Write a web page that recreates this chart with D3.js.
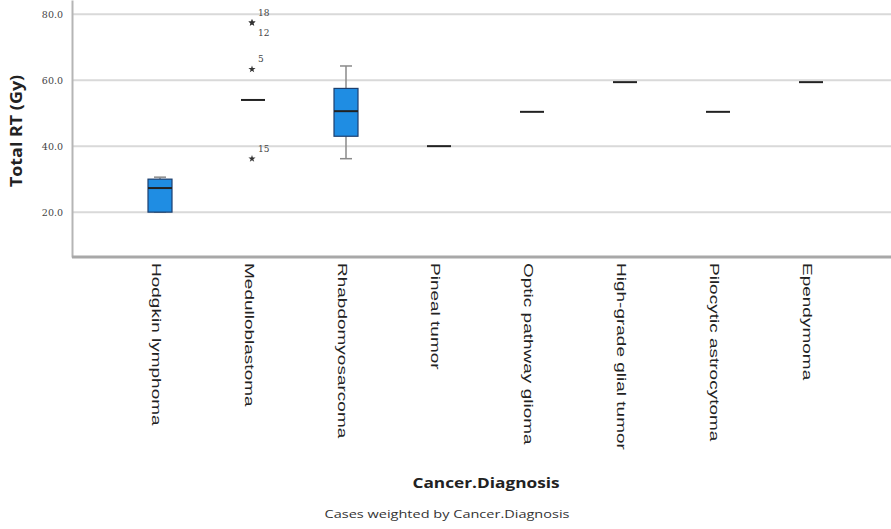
<!DOCTYPE html>
<html>
<head>
<meta charset="utf-8">
<script src="https://cdn.jsdelivr.net/npm/d3@7"></script>
<style>
  body { margin: 0; background: #fff; }
  svg { display: block; font-family: "Open Sans", sans-serif; }
</style>
</head>
<body>
<div id="chart"></div>
<script>
// chart values
const categories = ["Hodgkin lymphoma", "Medulloblastoma", "Rhabdomyosarcoma", "Pineal tumor",
  "Optic pathway glioma", "High-grade glial tumor", "Pilocytic astrocytoma", "Ependymoma"];
const whiskerLow  = [20.0, 54.0, 36.2, 40.0, 50.4, 59.4, 50.4, 59.4];
const quart1      = [20.0, 54.0, 43.0, 40.0, 50.4, 59.4, 50.4, 59.4];
const medians     = [27.3, 54.0, 50.6, 40.0, 50.4, 59.4, 50.4, 59.4];
const quart3      = [30.0, 54.0, 57.5, 40.0, 50.4, 59.4, 50.4, 59.4];
const whiskerHigh = [30.6, 54.0, 64.3, 40.0, 50.4, 59.4, 50.4, 59.4];
// extreme values (category, value, case id)
const outlierCat = ["Medulloblastoma", "Medulloblastoma", "Medulloblastoma", "Medulloblastoma"];
const outlierVal = [77.4, 77.4, 63.3, 36.2];
const outlierId  = ["18", "12", "5", "15"];
const yTicks = [20, 40, 60, 80];

const width = 891, height = 529;
const left = 72, bottom = 257;

const svg = d3.select("#chart").append("svg")
  .attr("width", width).attr("height", height);

const x = d3.scalePoint().domain(categories).range([160, 811]);
const y = d3.scaleLinear().domain([6.4, 84.3]).range([bottom, 0]);

// gridlines
svg.append("g").selectAll("line").data(yTicks).enter().append("line")
  .attr("x1", left).attr("x2", width)
  .attr("y1", d => y(d)).attr("y2", d => y(d))
  .attr("stroke", "#d9d9d9").attr("stroke-width", 2);

// y axis
const yAxis = d3.axisLeft(y).tickValues(yTicks).tickSize(0).tickPadding(9)
  .tickFormat(d3.format(".1f"));
const gy = svg.append("g").attr("transform", `translate(${left},0)`).call(yAxis);
gy.select(".domain").attr("stroke", "#b5b5b5").attr("stroke-width", 2);
gy.selectAll("text").attr("font-size", 9.5).attr("fill", "#444")
  .attr("font-family", "'DejaVu Serif', serif");

// x axis
const xAxis = d3.axisBottom(x).tickSize(0).tickPadding(0);
const gx = svg.append("g").attr("transform", `translate(0,${bottom})`).call(xAxis);
gx.select(".domain").attr("d", `M${left},0H${width}`)
  .attr("stroke", "#a8a8a8").attr("stroke-width", 3);
gx.selectAll("text")
  .attr("text-anchor", "start")
  .attr("transform", "translate(-4,6) rotate(90) scale(1.52,1)")
  .attr("x", 0).attr("y", 0).attr("dy", "0.35em")
  .attr("font-size", 12.5).attr("fill", "#222");

// boxes
const boxW = 24;
const boxes = categories.map((c, i) => ({
  cat: c, lo: whiskerLow[i], q1: quart1[i], med: medians[i], q3: quart3[i], hi: whiskerHigh[i]
}));

const g = svg.append("g").selectAll("g").data(boxes).enter().append("g");

g.filter(d => d.q3 > d.q1).each(function(d) {
  const s = d3.select(this), cx = x(d.cat);
  // whiskers
  s.append("line").attr("x1", cx).attr("x2", cx).attr("y1", y(d.hi)).attr("y2", y(d.q3))
    .attr("stroke", "#8a8a8a").attr("stroke-width", 1.5);
  s.append("line").attr("x1", cx).attr("x2", cx).attr("y1", y(d.q1)).attr("y2", y(d.lo))
    .attr("stroke", "#8a8a8a").attr("stroke-width", 1.5);
  s.append("line").attr("x1", cx - boxW / 4).attr("x2", cx + boxW / 4)
    .attr("y1", y(d.hi)).attr("y2", y(d.hi)).attr("stroke", "#8a8a8a").attr("stroke-width", 1.5);
  s.append("line").attr("x1", cx - boxW / 4).attr("x2", cx + boxW / 4)
    .attr("y1", y(d.lo)).attr("y2", y(d.lo)).attr("stroke", "#8a8a8a").attr("stroke-width", 1.5);
  s.append("rect")
    .attr("x", cx - boxW / 2).attr("width", boxW)
    .attr("y", y(d.q3)).attr("height", y(d.q1) - y(d.q3))
    .attr("fill", "#1f8de3").attr("stroke", "#1d3f6e").attr("stroke-width", 1.2);
});

// medians
g.append("line")
  .attr("x1", d => x(d.cat) - boxW / 2).attr("x2", d => x(d.cat) + boxW / 2)
  .attr("y1", d => y(d.med)).attr("y2", d => y(d.med))
  .attr("stroke", "#222").attr("stroke-width", 2);

// outliers
const outliers = outlierVal.map((v, i) => ({ cat: outlierCat[i], val: v, id: outlierId[i] }));
const seen = {};
outliers.forEach(d => {
  const k = d.cat + d.val;
  d.rank = seen[k] || 0;
  seen[k] = d.rank + 1;
});

svg.append("g").selectAll("path").data(outliers).enter().append("path")
  .attr("d", d3.symbol().type(d3.symbolStar).size(16))
  .attr("transform", d => `translate(${x(d.cat) - 1},${y(d.val)})`)
  .attr("fill", "#333");

svg.append("g").selectAll("text").data(outliers).enter().append("text")
  .attr("x", d => x(d.cat) + 5)
  .attr("y", d => y(d.val) + (d.rank === 0 ? -7 : 13))
  .attr("font-size", 9).attr("fill", "#444")
  .attr("font-family", "'DejaVu Serif', serif")
  .text(d => d.id);

// titles
svg.append("text")
  .attr("transform", "translate(22,131) rotate(-90) scale(1.12,1)")
  .attr("text-anchor", "middle")
  .attr("font-size", 16).attr("font-weight", "bold").attr("fill", "#222")
  .text("Total RT (Gy)");

svg.append("text")
  .attr("transform", "translate(486,488) scale(1.15,1)")
  .attr("text-anchor", "middle")
  .attr("font-size", 15).attr("font-weight", "bold").attr("fill", "#222")
  .text("Cancer.Diagnosis");

svg.append("text")
  .attr("transform", "translate(447,518) scale(1.32,1)")
  .attr("text-anchor", "middle")
  .attr("font-size", 11).attr("fill", "#333")
  .text("Cases weighted by Cancer.Diagnosis");
</script>
</body>
</html>
